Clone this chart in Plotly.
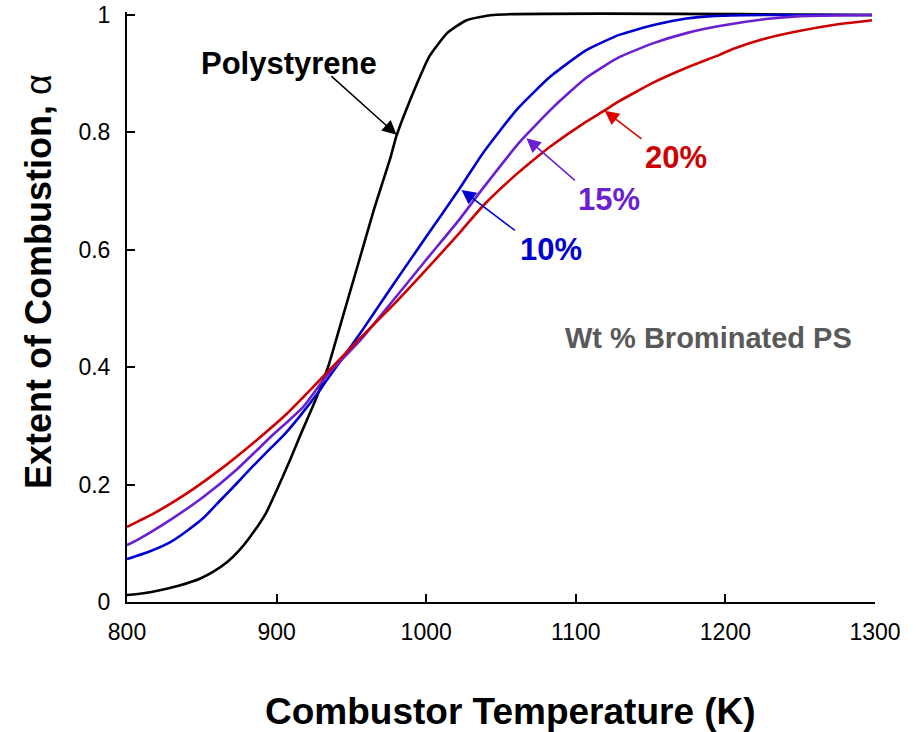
import plotly.graph_objects as go

# Combustor temperature (K) and extent of combustion for each material
t_ps = [800, 811, 822, 835, 849, 858, 867, 875, 882, 893, 900, 909, 916, 926, 935, 943,
        955, 965, 971, 976, 980, 985, 994, 1002, 1014, 1027, 1045, 1298]
a_ps = [0.012, 0.015, 0.02, 0.028, 0.04, 0.052, 0.068, 0.088, 0.11, 0.152, 0.19, 0.242,
        0.285, 0.344, 0.405, 0.475, 0.58, 0.668, 0.716, 0.756, 0.793, 0.828, 0.884, 0.929,
        0.969, 0.991, 1.0, 1.0]

t_10 = [800, 815, 829, 840, 851, 862, 873, 884, 896, 904, 916, 929, 933, 956, 978, 1000,
        1022, 1038, 1061, 1083, 1107, 1129, 1152, 1174, 1191, 1230, 1298]
a_10 = [0.073, 0.086, 0.102, 0.121, 0.143, 0.172, 0.201, 0.231, 0.262, 0.282, 0.318, 0.361,
        0.376, 0.458, 0.541, 0.622, 0.703, 0.765, 0.84, 0.895, 0.94, 0.966, 0.983, 0.994,
        0.998, 1.0, 1.0]

t_15 = [800, 807, 829, 851, 873, 896, 918, 933, 956, 978, 1000, 1022, 1038, 1063, 1085,
        1107, 1129, 1152, 1174, 1196, 1227, 1250, 1298]
a_15 = [0.097, 0.106, 0.14, 0.179, 0.225, 0.281, 0.333, 0.384, 0.446, 0.514, 0.583, 0.651,
        0.705, 0.785, 0.843, 0.893, 0.928, 0.952, 0.969, 0.981, 0.993, 0.998, 1.0]

t_20 = [800, 818, 840, 862, 884, 907, 927, 956, 978, 1000, 1022, 1038, 1060, 1076, 1083,
        1105, 1119, 1129, 1141, 1152, 1174, 1196, 1205, 1227, 1250, 1272, 1298]
a_20 = [0.128, 0.151, 0.185, 0.225, 0.27, 0.321, 0.373, 0.45, 0.506, 0.566, 0.628, 0.675,
        0.728, 0.762, 0.776, 0.815, 0.837, 0.853, 0.87, 0.885, 0.91, 0.932, 0.942, 0.96,
        0.973, 0.983, 0.991]

x_ticks = [800, 900, 1000, 1100, 1200, 1300]
y_ticks = [0, 0.2, 0.4, 0.6, 0.8, 1]

BLACK = "#000000"
BLUE = "#0000D0"
PURPLE = "#6A1FD1"
RED = "#CC0000"
RED_ARROW = "#E00000"
GRAY = "#595959"
FONT = "Arial, Liberation Sans, sans-serif"

fig = go.Figure()
for t, a, c, name in [(t_ps, a_ps, BLACK, "Polystyrene"),
                      (t_10, a_10, BLUE, "10%"),
                      (t_15, a_15, PURPLE, "15%"),
                      (t_20, a_20, RED, "20%")]:
    fig.add_trace(go.Scatter(x=t, y=a, mode="lines", name=name,
                             line=dict(color=c, width=2.6, shape="spline", smoothing=0.5),
                             showlegend=False))

# Curve labels with pointer arrows
labels = [
    ("Polystyrene", 908.2, 0.918, BLACK, BLACK, (935.6, 0.898), (980.2, 0.796)),
    ("10%", 1083.2, 0.600, BLUE, BLUE, (1060.3, 0.631), (1023.6, 0.702)),
    ("15%", 1122.0, 0.685, PURPLE, PURPLE, (1100.4, 0.716), (1067.0, 0.790)),
    ("20%", 1166.7, 0.757, RED, RED_ARROW, (1144.9, 0.787), (1119.3, 0.837)),
]
for text, tx, ty, tc, ac, tail, tip in labels:
    fig.add_annotation(x=tx, y=ty, xref="x", yref="y", text=f"<b>{text}</b>",
                       showarrow=False, font=dict(family=FONT, size=31, color=tc))
    fig.add_annotation(x=tip[0], y=tip[1], ax=tail[0], ay=tail[1],
                       xref="x", yref="y", axref="x", ayref="y", text="",
                       showarrow=True, arrowhead=2, arrowsize=1.9, arrowwidth=1.5,
                       arrowcolor=ac)

fig.add_annotation(x=1188.8, y=0.45, xref="x", yref="y",
                   text="<b>Wt % Brominated PS</b>", showarrow=False,
                   font=dict(family=FONT, size=29, color=GRAY))

# Axis titles
fig.add_annotation(x=0.513, y=0, xref="paper", yref="paper", yshift=-109,
                   text="<b>Combustor Temperature (K)</b>", showarrow=False,
                   yanchor="middle", font=dict(family=FONT, size=37, color=BLACK))
fig.add_annotation(x=0, y=0.545, xref="paper", yref="y", xshift=-89,
                   text="<b>Extent of Combustion, </b>α", showarrow=False,
                   textangle=-90, xanchor="center", yanchor="middle",
                   font=dict(family=FONT, size=36, color=BLACK))

axis_common = dict(showline=True, linecolor=BLACK, linewidth=2, ticks="inside",
                   ticklen=8, tickwidth=2, tickcolor=BLACK, showgrid=False,
                   zeroline=False, automargin=False,
                   tickfont=dict(family=FONT, size=23, color=BLACK))

fig.update_layout(
    width=917, height=732,
    margin=dict(l=127, r=42, t=12, b=130),
    paper_bgcolor="white", plot_bgcolor="white",
    xaxis=dict(range=[800, 1300], tickvals=x_ticks,
               ticktext=[str(v) for v in x_ticks], ticklabelstandoff=8, **axis_common),
    yaxis=dict(range=[0, 1.005], tickvals=y_ticks,
               ticktext=[f"{v:g}" for v in y_ticks], ticklabelstandoff=10, **axis_common),
)

fig.write_html("out.html")
